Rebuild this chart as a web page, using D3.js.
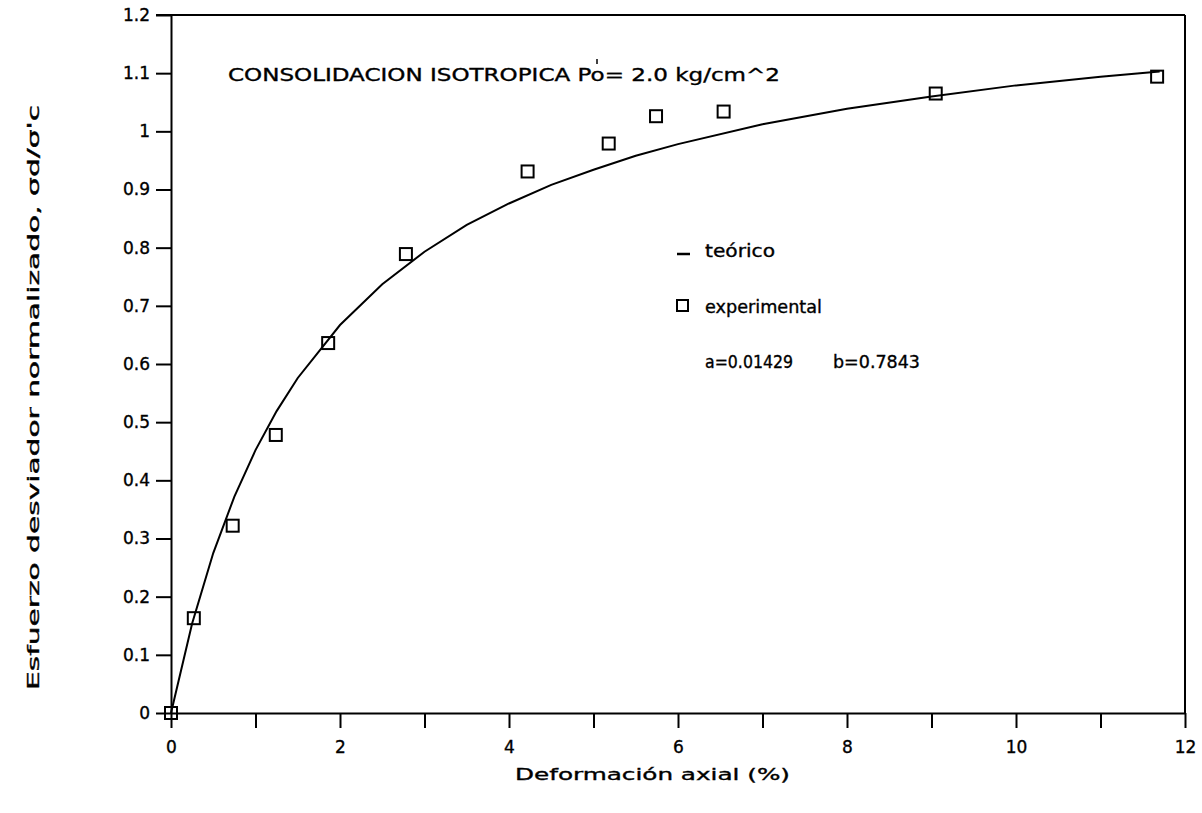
<!DOCTYPE html>
<html>
<head>
<meta charset="utf-8">
<script src="https://cdn.jsdelivr.net/npm/d3@7"></script>
<style>
  body { margin: 0; background: #fff; }
  svg text { font-family: "DejaVu Sans", sans-serif; fill: #000; stroke: #000; stroke-width: 0.35; }
  .axis path, .axis line { stroke: #000; stroke-width: 2; }
  .axis text { font-size: 17px; }
</style>
</head>
<body>
<div id="chart"></div>
<script>
// experimental points (deformacion %, esfuerzo normalizado)
var expX = [0, 0.27, 0.73, 1.24, 1.86, 2.78, 4.22, 5.18, 5.74, 6.54, 9.05, 11.67];
var expY = [0, 0.163, 0.322, 0.478, 0.636, 0.789, 0.931, 0.979, 1.026, 1.034, 1.065, 1.094];

// theoretical curve
var teoX = [0, 0.25, 0.5, 0.75, 1, 1.25, 1.5, 2, 2.5, 3, 3.5, 4, 4.5, 5, 5.5, 6, 7, 8, 9, 10, 11, 11.7];
var teoY = [0, 0.154, 0.275, 0.372, 0.452, 0.519, 0.576, 0.667, 0.737, 0.793, 0.839, 0.876, 0.908, 0.934, 0.958, 0.978, 1.012, 1.039, 1.06, 1.079, 1.094, 1.103];

var xTicks = [0, 2, 4, 6, 8, 10, 12];
var xMinor = [1, 3, 5, 7, 9, 11];
var yTicks = [0, 0.1, 0.2, 0.3, 0.4, 0.5, 0.6, 0.7, 0.8, 0.9, 1, 1.1, 1.2];

var width = 1202, height = 813;
var pLeft = 171, pRight = 1185, pTop = 15, pBottom = 713;

var svg = d3.select('#chart').append('svg')
    .attr('width', width)
    .attr('height', height);

var x = d3.scaleLinear().domain([0, 12]).range([pLeft, pRight]);
var y = d3.scaleLinear().domain([0, 1.2]).range([pBottom, pTop]);

// frame top + right
svg.append('line').attr('x1', pLeft - 15).attr('x2', pRight).attr('y1', pTop).attr('y2', pTop)
    .attr('stroke', '#000').attr('stroke-width', 2);
svg.append('line').attr('x1', pRight).attr('x2', pRight).attr('y1', pTop).attr('y2', pBottom)
    .attr('stroke', '#000').attr('stroke-width', 2);

// bottom axis
svg.append('g').attr('class', 'axis')
    .attr('transform', 'translate(0,' + pBottom + ')')
    .call(d3.axisBottom(x).tickValues(xTicks).tickSize(15).tickSizeOuter(0).tickPadding(13)
      .tickFormat(function(d) { return d; }));
svg.append('g').attr('class', 'axis')
    .attr('transform', 'translate(0,' + pBottom + ')')
    .call(d3.axisBottom(x).tickValues(xMinor).tickSize(15).tickSizeOuter(0).tickFormat(''))
    .select('.domain').remove();

// left axis
svg.append('g').attr('class', 'axis')
    .attr('transform', 'translate(' + pLeft + ',0)')
    .call(d3.axisLeft(y).tickValues(yTicks).tickSize(15).tickSizeOuter(0).tickPadding(6)
      .tickFormat(function(d) { return d === 0 || d === 1 ? d : d3.format('.1f')(d); }));

// theoretical curve
var line = d3.line()
    .x(function(d, i) { return x(teoX[i]); })
    .y(function(d, i) { return y(teoY[i]); });
svg.append('path')
    .datum(teoX)
    .attr('d', line)
    .attr('fill', 'none')
    .attr('stroke', '#000')
    .attr('stroke-width', 2);

// experimental squares
var sq = 12;
svg.selectAll('.pt')
    .data(expX)
    .enter()
    .append('rect')
    .attr('class', 'pt')
    .attr('x', function(d) { return x(d) - sq / 2; })
    .attr('y', function(d, i) { return y(expY[i]) - sq / 2; })
    .attr('width', sq)
    .attr('height', sq)
    .attr('fill', 'none')
    .attr('stroke', '#000')
    .attr('stroke-width', 2);

// title inside plot
svg.append('text')
    .attr('x', 228).attr('y', 81)
    .style('font-size', '17px')
    .attr('textLength', 552)
    .attr('lengthAdjust', 'spacingAndGlyphs')
    .text('CONSOLIDACION ISOTROPICA Po= 2.0 kg/cm^2');
// small prime mark over the "o" of Po
svg.append('line').attr('x1', 597).attr('x2', 597).attr('y1', 59).attr('y2', 64)
    .attr('stroke', '#000').attr('stroke-width', 1.5);

// legend
svg.append('line').attr('x1', 677).attr('x2', 690).attr('y1', 254).attr('y2', 254)
    .attr('stroke', '#000').attr('stroke-width', 2.5);
svg.append('text').attr('x', 705).attr('y', 257).style('font-size', '17px')
    .attr('textLength', 70).attr('lengthAdjust', 'spacingAndGlyphs').text('teórico');
svg.append('rect').attr('x', 677).attr('y', 300).attr('width', 11).attr('height', 11)
    .attr('fill', 'none').attr('stroke', '#000').attr('stroke-width', 2);
svg.append('text').attr('x', 705).attr('y', 313).style('font-size', '17px')
    .attr('textLength', 117).attr('lengthAdjust', 'spacingAndGlyphs').text('experimental');
svg.append('text').attr('x', 705).attr('y', 368).style('font-size', '17px')
    .attr('textLength', 88).attr('lengthAdjust', 'spacingAndGlyphs').text('a=0.01429');
svg.append('text').attr('x', 833).attr('y', 368).style('font-size', '17px')
    .attr('textLength', 87).attr('lengthAdjust', 'spacingAndGlyphs').text('b=0.7843');

// axis titles
svg.append('text')
    .attr('x', 515).attr('y', 780)
    .style('font-size', '16px')
    .attr('textLength', 275)
    .attr('lengthAdjust', 'spacingAndGlyphs')
    .text('Deformación axial (%)');

svg.append('text')
    .attr('transform', 'translate(39,690) rotate(-90)')
    .style('font-size', '15px')
    .attr('textLength', 585)
    .attr('lengthAdjust', 'spacingAndGlyphs')
    .text("Esfuerzo desviador normalizado, σd/σ'c");
</script>
</body>
</html>
